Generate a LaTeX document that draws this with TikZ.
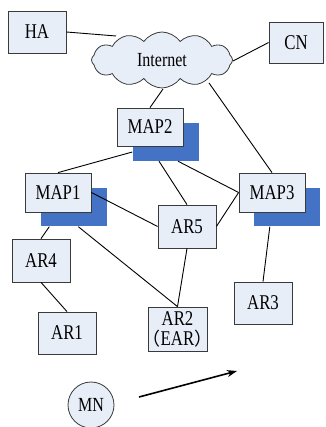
\documentclass[tikz,border=0pt]{standalone}
\usepackage{fontspec}
\setmainfont{Liberation Serif}[FakeStretch=0.8]
\newfontfamily\cjk{Noto Sans CJK SC}
\usetikzlibrary{shapes.symbols,calc,arrows.meta}
\definecolor{boxfill}{HTML}{E8EEF8}
\definecolor{boxline}{HTML}{3A3A3A}
\definecolor{shadowblue}{HTML}{4472C4}
\begin{document}
\begin{tikzpicture}[x=1pt,y=1pt,
  netbox/.style={draw=boxline,line width=0.8pt,fill=boxfill,inner sep=0pt,
    font=\fontsize{21}{22}\selectfont,align=center},
  shade/.style={fill=shadowblue,inner sep=0pt,minimum width=66pt,minimum height=38pt},
  link/.style={draw=black,line width=0.9pt}]
\useasboundingbox (0,0) rectangle (325,427);
% shadows
\node[shade] (map2s) at (165.5,285) {};
\node[shade] (map1s) at (73.5,219.5) {};
\node[shade] (map3s) at (287,219.5) {};
% cloud
\node[cloud,cloud puffs=12,cloud puff arc=110,aspect=2.5,draw=boxline,line width=0.8pt,
  fill=boxfill,minimum width=141pt,minimum height=56pt,inner sep=0pt,
  font=\fontsize{20}{22}\selectfont] (cloud) at (162,367) {Internet};
% boxes
\node[netbox,minimum width=58pt,minimum height=42pt] (ha) at (37,395) {HA};
\node[netbox,minimum width=54pt,minimum height=41pt] (cn) at (296,384.5) {CN};
\node[netbox,minimum width=66pt,minimum height=38pt] (map2) at (150,300) {MAP2};
\node[netbox,minimum width=66pt,minimum height=39pt] (map1) at (58,234.5) {MAP1};
\node[netbox,minimum width=66pt,minimum height=39pt] (map3) at (272,234.5) {MAP3};
\node[netbox,minimum width=58pt,minimum height=43pt] (ar5) at (187,200.5) {AR5};
\node[netbox,minimum width=58pt,minimum height=43pt] (ar4) at (41,166.5) {AR4};
\node[netbox,minimum width=58pt,minimum height=42pt] (ar3) at (263,124) {AR3};
\node[netbox,minimum width=58pt,minimum height=42pt] (ar1) at (67,94) {AR1};
\node[netbox,minimum width=59pt,minimum height=44pt,font=\fontsize{21}{20}\selectfont] (ar2) at (177.5,98)
  {AR2\\\makebox[56pt][c]{{\cjk\fontsize{18}{20}\selectfont （}EAR{\cjk\fontsize{18}{20}\selectfont ）}}};
\node[circle,draw=boxline,line width=0.8pt,fill=boxfill,minimum size=46pt,inner sep=0pt,
  font=\fontsize{20}{20}\selectfont] (mn) at (91,22) {MN};
% connectors
\draw[link] (ha.east) -- ($(cloud.center)+(-46,24)$);
\draw[link] (cn.west) -- ($(cloud.center)+(71,-1)$);
\draw[link] ($(cloud.center)+(1,-29)$) -- (map2.north);
\draw[link] ($(cloud.center)+(47,-23)$) -- (map3.north);
\draw[link] ($(map2s.west)+(0,-10)$) -- (map1.north);
\draw[link] ($(map2s.south)+(-6.5,0)$) -- (ar5.north);
\draw[link] ($(map2s.south)+(12.5,0)$) -- (map3.west);
\draw[link] (map1.east) -- (ar5.west);
\draw[link] (ar5.east) -- (map3.west);
\draw[link] ($(map1s.south west)+(9,0)$) -- (ar4.north);
\draw[link] ($(map1s.south west)+(38,0)$) -- (ar2.north);
\draw[link] (ar5.south) -- (ar2.north);
\draw[link] ($(map3s.south west)+(16,0)$) -- (ar3.north);
\draw[link] (ar4.south) -- (ar1.north);
% move arrow
\coordinate (mvs) at (139,30);
\coordinate (mve) at (237,56);
\draw[line width=1.6pt,-{Stealth[length=10pt,width=7pt]}] (mvs) -- (mve);
\end{tikzpicture}
\end{document}
